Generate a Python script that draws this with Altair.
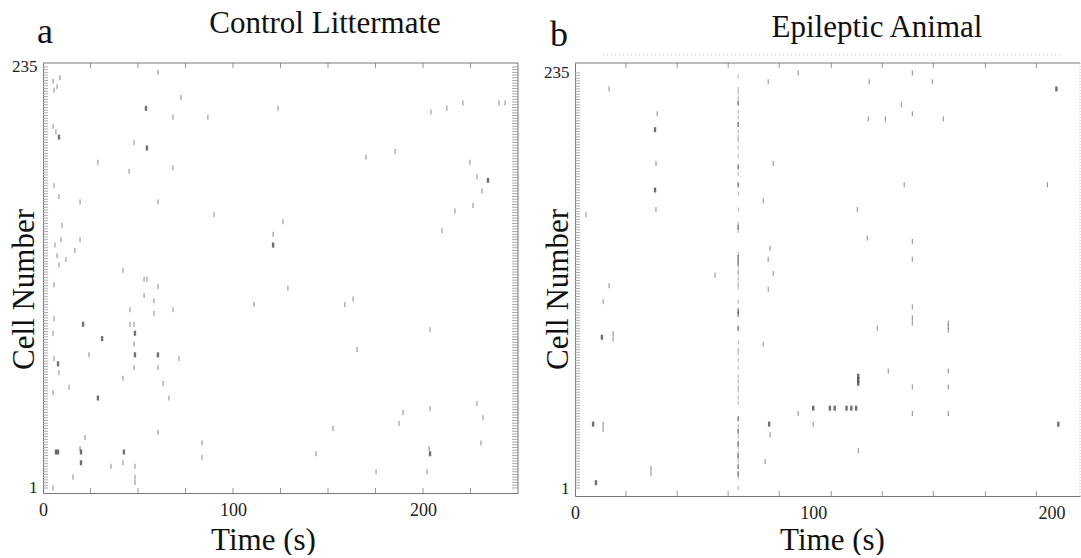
import altair as alt
import pandas as pd

FONT = "Liberation Serif"

# ---------------- Panel a : Control Littermate ----------------
a_time = [60.5, 5.3, 8.9, 7.4, 5.8, 72.6, 123.7, 68.4, 86.8, 5.3, 6.8, 47.9, 28.9, 45.3, 68.4,
          5.8, 8.4, 19.5, 60.5, 90.0, 10.0, 6.3, 9.5, 19.5, 16.8, 7.4, 8.4, 12.1, 121.1, 42.1,
          53.2, 54.7, 204.2, 212.6, 221.0, 240.0, 243.2, 170.0, 185.3, 224.7, 228.4, 231.1, 216.8,
          226.3, 126.3, 210.0, 60.5, 5.8, 53.2, 58.4, 45.8, 68.4, 58.4, 111.0, 5.8, 45.8, 47.9,
          5.3, 47.9, 24.2, 5.8, 8.4, 71.6, 47.9, 60.5, 42.1, 63.2, 13.7, 5.3, 66.3, 60.5, 22.1,
          19.5, 42.1, 83.7, 83.7, 35.8, 48.4, 15.8, 48.4, 48.4, 5.3, 128.9, 158.9, 163.2, 203.7,
          165.3, 228.4, 203.7, 189.5, 231.6, 187.4, 152.6, 230.5, 143.7, 203.2, 175.3, 202.1]
a_cell = [232, 227, 229, 224, 222, 218, 212, 207, 207, 202, 199, 193, 182, 177, 179,
          169, 163, 160, 160, 153, 147, 136, 139, 139, 133, 130, 125, 128, 142, 122,
          117, 117, 210, 212, 215, 215, 215, 185, 188, 182, 174, 166, 155,
          158, 149, 144, 113, 114, 108, 105, 100, 100, 98, 103, 95, 92, 92,
          87, 81, 75, 73, 65, 73, 68, 68, 62, 59, 57, 54, 51, 32, 29,
          23, 15, 26, 18, 13, 13, 7, 7, 4, 1, 112, 103, 106, 89,
          78, 48, 45, 43, 40, 37, 34, 26, 20, 23, 10, 10]
a_burst_time = [54.2, 8.4, 54.7, 234.2, 121.1, 21.1, 48.4, 31.1, 48.4, 60.5, 7.9, 28.9,
                6.8, 7.9, 20.0, 20.0, 42.6, 203.7]
a_burst_cell = [212, 196, 190, 172, 136, 92, 87, 84, 75, 75, 70, 51,
                21, 21, 21, 15, 21, 20]
a_xticks = [25, 50, 75, 100, 125, 150, 175, 200, 225]

# ---------------- Panel b : Epileptic Animal ----------------
b_time = [93.7, 81.1, 14.3, 34.5, 34.0, 83.2, 79.0, 34.0, 4.6, 81.9, 81.1, 83.2, 58.8, 141.6,
          123.5, 150.0, 137.0, 141.6, 123.1, 130.3, 154.6, 138.2, 198.3, 118.5, 122.7, 141.6,
          141.6, 14.3, 81.1, 11.8, 79.0, 16.0, 16.0, 93.7, 11.8, 11.8, 81.9, 100.0, 79.8, 31.9,
          31.9, 126.9, 141.6, 141.6, 141.6, 156.7, 156.7, 156.7, 131.5, 141.6, 156.7, 156.7,
          141.6, 156.7, 118.9]
b_cell = [235, 230, 226, 212, 184, 184, 163, 158, 155, 136, 130, 122, 121, 235,
          230, 230, 217, 212, 209, 209, 209, 172, 172, 158, 142, 140,
          130, 115, 113, 106, 82, 88, 85, 43, 37, 34, 31, 37, 16, 12,
          9, 91, 103, 97, 94, 94, 92, 90, 67, 58, 67, 58,
          43, 43, 22]
b_burst_time = [33.6, 33.6, 202.1, 11.3, 100.0, 7.6, 81.5, 8.8, 107.0, 109.0, 114.0, 116.0,
                118.0, 118.9, 118.9, 118.9, 202.9]
b_burst_cell = [203, 169, 226, 86, 46, 37, 37, 4, 46, 46, 46, 46,
                46, 64, 62, 60, 37]
b_sync_time = 68.5
b_sync_cell = [233, 226, 224, 221, 213, 210, 202, 199, 197, 193, 188, 178, 167, 158, 150, 146,
               133, 126, 123, 122, 119, 116, 114, 106, 83, 79, 77, 73, 69, 64, 61, 58, 56, 52,
               49, 36, 30, 24, 21, 16, 7, 1]
b_sync_burst_cell = [218, 206, 182, 172, 148, 131, 128, 101, 99, 91, 40, 33, 26, 19, 13, 9]
b_xticks = [21.4, 42.9, 64.3, 85.7, 107.6, 129.0, 150.4, 172.3, 193.7]

cell_ticks = [round(1 + 1.5 * i, 1) for i in range(157)]
label_vals_x = [0, 100, 200]
label_vals_y = [1, 235]


def panel(W, H, xdom, ydom, times, cells, btimes, bcells, xticks, title, title_x, title_y,
          letter, letter_x, letter_y, xtitle_x, xtitle_y, ytitle_x, ytitle_y,
          sync_time=None, sync_cells=None, sync_bcells=None, right_ticks=True, dotted=False):
    X = alt.X("t:Q", scale=alt.Scale(domain=xdom, nice=False, zero=False),
              axis=alt.Axis(values=label_vals_x, title="Time (s)", grid=False, tickSize=0,
                            domainColor="#777", labelFont=FONT, labelFontSize=18,
                            labelColor="#222", labelPadding=8, labelFlush=False,
                            titleFont=FONT, titleFontSize=31, titleFontWeight="normal",
                            titleColor="#111", titleX=xtitle_x, titleY=xtitle_y,
                            titleBaseline="alphabetic", titleAlign="center"))
    Y = alt.Y("c:Q", scale=alt.Scale(domain=ydom, nice=False, zero=False),
              axis=alt.Axis(values=label_vals_y, title="Cell Number", grid=False, tickSize=0,
                            domainColor="#777", labelFont=FONT, labelFontSize=17,
                            labelColor="#222", labelPadding=6, labelFlush=False,
                            titleFont=FONT, titleFontSize=31, titleFontWeight="normal",
                            titleColor="#111", titleX=ytitle_x, titleY=ytitle_y,
                            titleAngle=270, titleBaseline="alphabetic", titleAlign="center"))

    spikes = pd.DataFrame({"t": times, "c": cells})
    bursts = pd.DataFrame({"t": btimes, "c": bcells})
    xt = pd.DataFrame({"t": xticks})
    yt = pd.DataFrame({"c": cell_ticks})
    one = pd.DataFrame({"k": [0]})

    layers = []
    layers.append(alt.Chart(xt).mark_rule(color="#999", strokeWidth=1).encode(
        x=X, y=alt.value(H), y2=alt.value(H - 5)))
    layers.append(alt.Chart(xt).mark_rule(color="#999", strokeWidth=1).encode(
        x=X, y=alt.value(0), y2=alt.value(5)))
    layers.append(alt.Chart(yt).mark_rule(color="#aaa", strokeWidth=1).encode(
        y=Y, x=alt.value(0), x2=alt.value(5)))
    if right_ticks:
        layers.append(alt.Chart(yt).mark_rule(color="#aaa", strokeWidth=1).encode(
            y=Y, x=alt.value(W), x2=alt.value(W - 6)))
    # frame top and right
    layers.append(alt.Chart(one).mark_rule(color="#777", strokeWidth=1).encode(
        x=alt.value(0), x2=alt.value(W), y=alt.value(0)))
    if dotted:
        layers.append(alt.Chart(one).mark_rule(color="#bbb", strokeWidth=1,
                                               strokeDash=[1, 2]).encode(
            x=alt.value(W), y=alt.value(0), y2=alt.value(H)))
        layers.append(alt.Chart(one).mark_rule(color="#ccc", strokeWidth=1,
                                               strokeDash=[1, 3]).encode(
            x=alt.value(28), x2=alt.value(485), y=alt.value(-8)))
    else:
        layers.append(alt.Chart(one).mark_rule(color="#777", strokeWidth=1).encode(
            x=alt.value(W), y=alt.value(0), y2=alt.value(H)))

    if sync_time is not None:
        sync = pd.DataFrame({"t": [sync_time] * len(sync_cells), "c": sync_cells})
        syncb = pd.DataFrame({"t": [sync_time] * len(sync_bcells), "c": sync_bcells})
        layers.append(alt.Chart(sync).mark_tick(orient="vertical", color="#8a8a8a",
                                                thickness=1, size=4).encode(x=X, y=Y))
        layers.append(alt.Chart(syncb).mark_tick(orient="vertical", color="#555",
                                                 thickness=1.6, size=5).encode(x=X, y=Y))

    layers.append(alt.Chart(spikes).mark_tick(orient="vertical", color="#555",
                                              thickness=1, size=5).encode(x=X, y=Y))
    layers.append(alt.Chart(bursts).mark_tick(orient="vertical", color="#333",
                                              thickness=2.4, size=5).encode(x=X, y=Y))

    layers.append(alt.Chart(one).mark_text(font=FONT, fontSize=31, color="#111",
                                           align="center", baseline="alphabetic").encode(
        x=alt.value(title_x), y=alt.value(title_y), text=alt.value(title)))
    layers.append(alt.Chart(one).mark_text(font=FONT, fontSize=36, color="#111",
                                           align="center", baseline="alphabetic").encode(
        x=alt.value(letter_x), y=alt.value(letter_y), text=alt.value(letter)))

    return alt.layer(*layers).properties(width=W, height=H)


left = panel(475, 430, [0, 250], [-1.8, 237.2], a_time, a_cell, a_burst_time, a_burst_cell,
             a_xticks, "Control Littermate", 282, -30, "a", 2, -20,
             220, 56, -10, 226)
right = panel(505, 433, [0, 212], [-3.5, 240.6], b_time, b_cell, b_burst_time, b_burst_cell,
              b_xticks, "Epileptic Animal", 302, -26, "b", -16, -17,
              257, 53, -8, 226,
              sync_time=b_sync_time, sync_cells=b_sync_cell,
              sync_bcells=b_sync_burst_cell, right_ticks=False, dotted=True)

chart = alt.hconcat(left, right, spacing=23).configure_view(stroke=None).properties(
    padding={"left": 8, "top": 8, "right": 0, "bottom": 0},
    background="white")

chart.save("out.html", embed_options={"renderer": "svg", "actions": False})
